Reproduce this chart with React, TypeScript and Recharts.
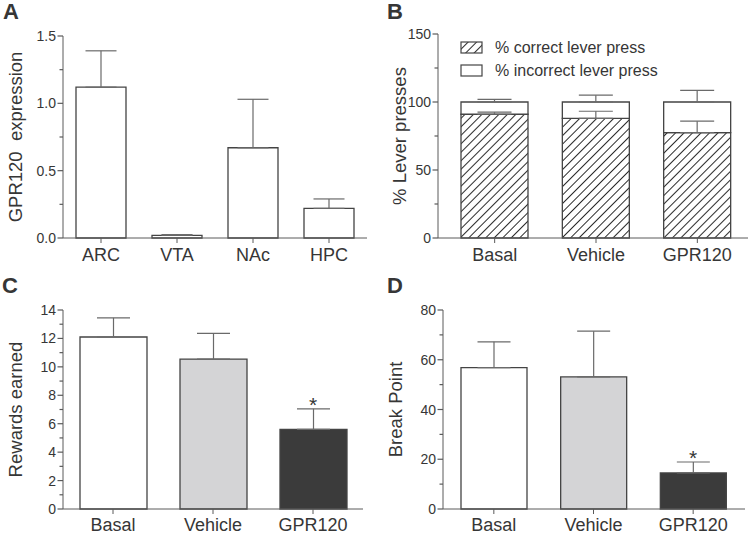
import React from 'react';
import { BarChart, Bar, XAxis, YAxis, ErrorBar, Legend, ReferenceDot, Label, Cell } from 'recharts';

const FONT = '"Liberation Sans", Arial, Helvetica, sans-serif';
const TEXT = '#363636';
const AXIS = '#5a5a5a';
const OUTLINE = '#444444';
const ERR = '#6a6a6a';

// panel A
const regions = ['ARC', 'VTA', 'NAc', 'HPC'];
const expression = [1.12, 0.02, 0.67, 0.22];
const expressionSem = [0.27, 0.005, 0.36, 0.07];
const expressionTicks = [0, 0.25, 0.5, 0.75, 1, 1.25, 1.5];

// panels B-D
const groups = ['Basal', 'Vehicle', 'GPR120'];
const groupFills = ['#ffffff', '#d4d4d6', '#3b3b3b'];
const significance = ['', '', '*'];

const correctPct = [91, 88, 77.5];
const correctSem = [1.5, 5.2, 8.4];
const incorrectPct = [9, 12, 22.5];
const totalSem = [2, 5, 8.5];
const pressTicks = [0, 25, 50, 75, 100, 125, 150];

const rewards = [12.1, 10.55, 5.6];
const rewardsSem = [1.35, 1.8, 1.45];
const rewardTicks = [0, 1, 2, 3, 4, 5, 6, 7, 8, 9, 10, 11, 12, 13, 14];

const breakPoint = [56.8, 53.1, 14.5];
const breakPointSem = [10.4, 18.4, 4.4];
const breakTicks = [0, 10, 20, 30, 40, 50, 60, 70, 80];

const dataA = regions.map((name, i) => ({ name, value: expression[i], err: [0, expressionSem[i]] }));
const dataB = groups.map((name, i) => ({
  name,
  correct: correctPct[i],
  incorrect: incorrectPct[i],
  errCorrect: [0, correctSem[i]],
  errTotal: [0, totalSem[i]],
}));
const dataC = groups.map((name, i) => ({ name, value: rewards[i], err: [0, rewardsSem[i]] }));
const dataD = groups.map((name, i) => ({ name, value: breakPoint[i], err: [0, breakPointSem[i]] }));

const makeYTick = (major: number, digits: number) => (props: any) => {
  const { x, y, payload } = props;
  const v = payload.value;
  const isMajor = Math.abs(v / major - Math.round(v / major)) < 1e-6;
  return (
    <g>
      <line x1={x - (isMajor ? 5.5 : 3.5)} x2={x} y1={y} y2={y} stroke={AXIS} strokeWidth={1.2} />
      {isMajor && (
        <text x={x - 7} y={y} dy="0.36em" textAnchor="end" fontSize={14} fill={TEXT} fontFamily={FONT}>
          {v.toFixed(digits)}
        </text>
      )}
    </g>
  );
};

const xTick = { fontSize: 18, fill: TEXT, fontFamily: FONT };

function yTitle(value: string, offset: number) {
  return (
    <Label
      value={value}
      angle={-90}
      position="insideLeft"
      offset={offset}
      style={{ textAnchor: 'middle', fontSize: 18.5, fill: TEXT, fontFamily: FONT }}
    />
  );
}

const starShape = (label: string) => (p: any) => (
  <text x={p.cx} y={p.cy + 3} textAnchor="middle" fontSize={21} fill={TEXT} fontFamily={FONT}>
    {label}
  </text>
);

const PanelLabel = ({ text, left, top }: { text: string; left: number; top: number }) => (
  <div
    style={{
      position: 'absolute',
      left,
      top,
      fontFamily: FONT,
      fontWeight: 'bold',
      fontSize: 22,
      lineHeight: '22px',
      color: TEXT,
    }}
  >
    {text}
  </div>
);

const renderLegend = (props: any) => {
  const items = props.payload || [];
  return (
    <div style={{ fontFamily: FONT, fontSize: 16, color: TEXT }}>
      {items.map((item: any) => (
        <div key={item.value} style={{ display: 'flex', alignItems: 'center', height: 23 }}>
          <svg width={24} height={13} style={{ marginRight: 11 }}>
            <rect x={1} y={1} width={21} height={11} fill={item.color} stroke={OUTLINE} strokeWidth={1.2} />
          </svg>
          <span>{item.value}</span>
        </div>
      ))}
    </div>
  );
};

export default function App() {
  return (
    <div style={{ position: 'absolute', left: 0, top: 0, width: 750, height: 535, background: '#fff', overflow: 'hidden' }}>
      {/* A */}
      <div style={{ position: 'absolute', left: 0, top: 0 }}>
        <BarChart width={375} height={270} data={dataA} margin={{ top: 36, right: 8, bottom: 0, left: 0 }}>
          <XAxis dataKey="name" tick={xTick} tickSize={5} tickMargin={5} height={32} stroke={AXIS} interval={0} />
          <YAxis
            width={63}
            domain={[0, 1.5]}
            ticks={expressionTicks}
            interval={0}
            tickLine={false}
            tickSize={0}
            tickMargin={0}
            stroke={AXIS}
            tick={makeYTick(0.5, 1)}
          >
            {yTitle('GPR120\u00a0 expression', 15.5)}
          </YAxis>
          <Bar dataKey="value" fill="#ffffff" stroke={OUTLINE} strokeWidth={1.3} barSize={50} isAnimationActive={false}>
            <ErrorBar dataKey="err" width={15.5} stroke={ERR} strokeWidth={1.2} direction="y" />
          </Bar>
        </BarChart>
      </div>

      {/* B */}
      <div style={{ position: 'absolute', left: 375, top: 0 }}>
        <BarChart width={375} height={270} data={dataB} margin={{ top: 34, right: 2, bottom: 0, left: 0 }}>
          <defs>
            <pattern id="hatch" patternUnits="userSpaceOnUse" width={6} height={6} patternTransform="rotate(45)">
              <rect width={6} height={6} fill="#ffffff" />
              <line x1={0} y1={0} x2={0} y2={6} stroke="#2a2a2a" strokeWidth={2} />
            </pattern>
          </defs>
          <XAxis
            dataKey="name"
            tick={xTick}
            tickSize={5}
            tickMargin={5}
            height={32}
            stroke={AXIS}
            interval={0}
            padding={{ left: 6, right: 0 }}
          />
          <YAxis
            width={63}
            domain={[0, 150]}
            ticks={pressTicks}
            interval={0}
            tickLine={false}
            tickSize={0}
            tickMargin={0}
            stroke={AXIS}
            tick={makeYTick(50, 0)}
          >
            {yTitle('% Lever presses', 24.5)}
          </YAxis>
          <Legend
            layout="vertical"
            align="center"
            verticalAlign="middle"
            content={renderLegend}
            wrapperStyle={{ left: 85, top: 36, width: 260, height: 46 }}
          />
          <Bar
            dataKey="correct"
            name="% correct lever press"
            stackId="s"
            fill="url(#hatch)"
            stroke={OUTLINE}
            strokeWidth={1.3}
            barSize={67}
            isAnimationActive={false}
          >
            <ErrorBar dataKey="errCorrect" width={17} stroke={ERR} strokeWidth={1.2} direction="y" />
          </Bar>
          <Bar
            dataKey="incorrect"
            name="% incorrect lever press"
            stackId="s"
            fill="#ffffff"
            stroke={OUTLINE}
            strokeWidth={1.3}
            barSize={67}
            isAnimationActive={false}
          >
            <ErrorBar dataKey="errTotal" width={17} stroke={ERR} strokeWidth={1.2} direction="y" />
          </Bar>
        </BarChart>
      </div>

      {/* C */}
      <div style={{ position: 'absolute', left: 0, top: 270 }}>
        <BarChart width={375} height={265} data={dataC} margin={{ top: 40, right: 12, bottom: 0, left: 0 }}>
          <XAxis dataKey="name" tick={xTick} tickSize={5} tickMargin={4} height={26} stroke={AXIS} interval={0} />
          <YAxis
            width={63}
            domain={[0, 14]}
            ticks={rewardTicks}
            interval={0}
            tickLine={false}
            tickSize={0}
            tickMargin={0}
            stroke={AXIS}
            tick={makeYTick(2, 0)}
          >
            {yTitle('Rewards earned', 15.5)}
          </YAxis>
          <Bar dataKey="value" stroke={OUTLINE} strokeWidth={1.3} barSize={67} isAnimationActive={false}>
            {dataC.map((d, i) => (
              <Cell key={d.name} fill={groupFills[i]} />
            ))}
            <ErrorBar dataKey="err" width={16.5} stroke={ERR} strokeWidth={1.2} direction="y" />
          </Bar>
          {groups.map((g, i) =>
            significance[i] ? (
              <ReferenceDot key={g} x={g} y={rewards[i] + rewardsSem[i]} r={1} shape={starShape(significance[i])} />
            ) : null
          )}
        </BarChart>
      </div>

      {/* D */}
      <div style={{ position: 'absolute', left: 375, top: 270 }}>
        <BarChart width={375} height={265} data={dataD} margin={{ top: 40, right: 5, bottom: 0, left: 0 }}>
          <XAxis
            dataKey="name"
            tick={xTick}
            tickSize={5}
            tickMargin={4}
            height={26}
            stroke={AXIS}
            interval={0}
            padding={{ left: 1, right: 2 }}
          />
          <YAxis
            width={68}
            domain={[0, 80]}
            ticks={breakTicks}
            interval={0}
            tickLine={false}
            tickSize={0}
            tickMargin={0}
            stroke={AXIS}
            tick={makeYTick(20, 0)}
          >
            {yTitle('Break Point', 20.5)}
          </YAxis>
          <Bar dataKey="value" stroke={OUTLINE} strokeWidth={1.3} barSize={66} isAnimationActive={false}>
            {dataD.map((d, i) => (
              <Cell key={d.name} fill={groupFills[i]} />
            ))}
            <ErrorBar dataKey="err" width={16.5} stroke={ERR} strokeWidth={1.2} direction="y" />
          </Bar>
          {groups.map((g, i) =>
            significance[i] ? (
              <ReferenceDot key={g} x={g} y={breakPoint[i] + breakPointSem[i]} r={1} shape={starShape(significance[i])} />
            ) : null
          )}
        </BarChart>
      </div>

      <PanelLabel text="A" left={3} top={1} />
      <PanelLabel text="B" left={387} top={1} />
      <PanelLabel text="C" left={2} top={275} />
      <PanelLabel text="D" left={387} top={275} />
    </div>
  );
}
